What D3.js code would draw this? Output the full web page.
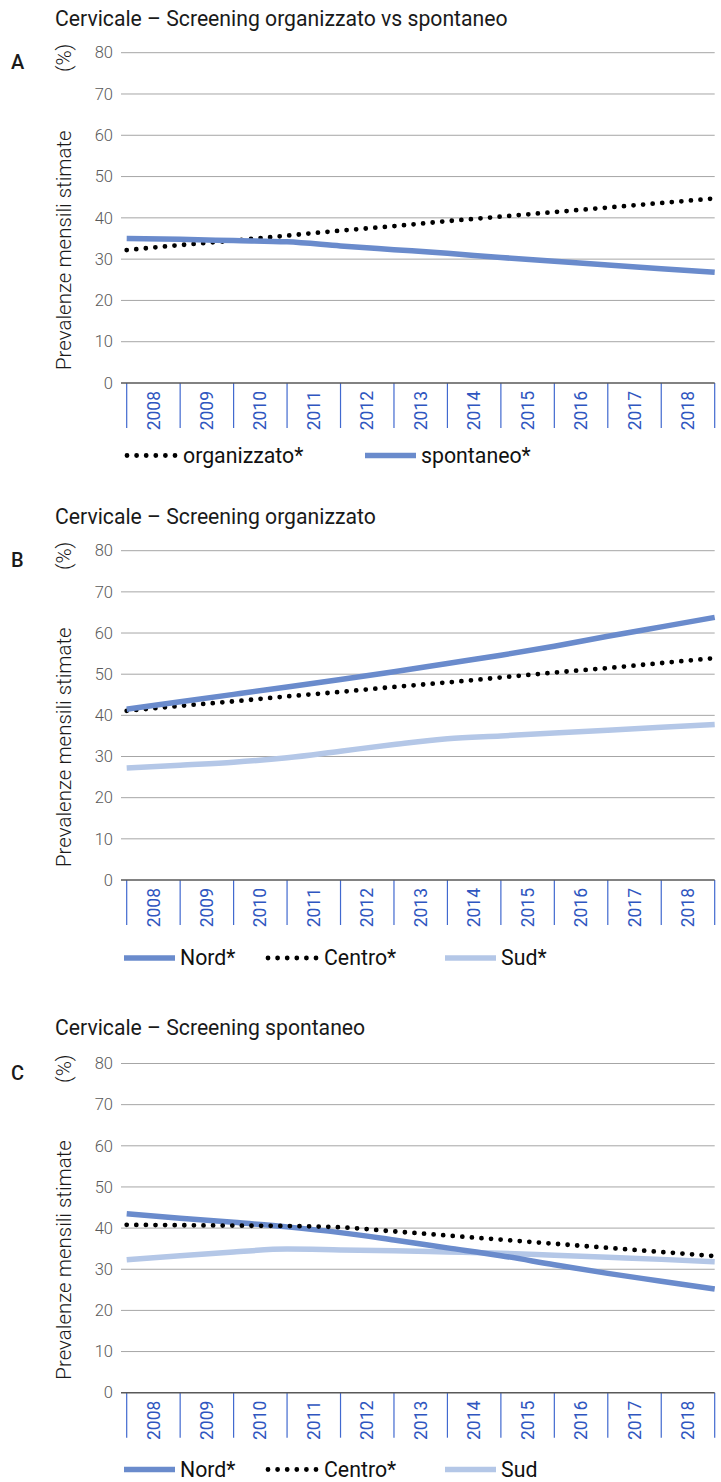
<!DOCTYPE html>
<html>
<head>
<meta charset="utf-8">
<script src="https://cdn.jsdelivr.net/npm/d3@7"></script>
<style>
  html, body { margin: 0; padding: 0; background: #fff; }
  svg { display: block; font-family: Roboto, "Open Sans", sans-serif; }
</style>
</head>
<body>
<svg id="chart" width="721" height="1482"></svg>
<script>
// Calendar years shown on the x axis (each band covers one year of monthly estimates)
const years = [2008, 2009, 2010, 2011, 2012, 2013, 2014, 2015, 2016, 2017, 2018];
// Time positions (start of each year, plus end of 2018) where the curves are sampled
const timeKnots = [2008, 2009, 2010, 2011, 2012, 2013, 2014, 2015, 2016, 2017, 2018, 2019];
const yTicks = [0, 10, 20, 30, 40, 50, 60, 70, 80];

// Panel A – organised vs spontaneous screening
const organizzatoA = [32.2, 33.4, 34.5, 35.7, 36.9, 38.0, 39.2, 40.3, 41.4, 42.5, 43.6, 44.7];
const spontaneoA   = [35.0, 34.8, 34.5, 34.2, 33.2, 32.3, 31.4, 30.4, 29.5, 28.6, 27.7, 26.8];

// Panel B – organised screening by area
const nordB   = [41.5, 43.3, 45.1, 46.9, 48.7, 50.6, 52.6, 54.6, 56.8, 59.2, 61.5, 63.8];
const centroB = [41.1, 42.3, 43.4, 44.6, 45.7, 46.9, 48.0, 49.2, 50.4, 51.5, 52.7, 53.9];
const sudB    = [27.2, 27.9, 28.6, 29.7, 31.3, 32.9, 34.3, 35.0, 35.7, 36.4, 37.1, 37.8];

// Panel C – spontaneous screening by area
const nordC   = [43.5, 42.4, 41.4, 40.3, 38.9, 37.1, 35.2, 33.3, 31.1, 29.0, 27.1, 25.2];
const centroC = [40.8, 40.7, 40.6, 40.5, 40.2, 39.2, 38.2, 37.2, 36.2, 35.2, 34.2, 33.2];
const sudC    = [32.3, 33.3, 34.2, 34.9, 34.7, 34.5, 34.2, 33.9, 33.4, 32.9, 32.4, 31.8];

const COLORS = { blue: "#6a8bcc", light: "#b4c7e7", dots: "#000000" };
const STYLES = {
  solid:  { stroke: COLORS.blue,  width: 5.5, dash: null },
  light:  { stroke: COLORS.light, width: 5.5, dash: null },
  dotted: { stroke: COLORS.dots,  width: 4.8, dash: "0,9.6" }
};

const svg = d3.select("#chart");
const plotLeft = 126.7, plotRight = 714.7, gridLeft = 121;
const x = d3.scaleLinear().domain([2008, 2019]).range([plotLeft, plotRight]);

function drawPanel(p) {
  const g = svg.append("g");
  const y = d3.scaleLinear().domain([0, 80]).range([p.y0, p.y80]);

  // title and panel letter
  g.append("text").attr("x", 55).attr("y", p.titleY)
    .attr("font-size", 21.2).attr("fill", "#1a1a1a").text(p.title);
  g.append("text").attr("x", 11).attr("y", p.y80 + 16)
    .attr("font-size", 20).attr("font-weight", 500).attr("fill", "#1a1a1a").text(p.letter);

  // y axis title: description at the bottom, unit at the top
  g.append("text")
    .attr("transform", `translate(71,${p.y0 - 13}) rotate(-90)`)
    .attr("text-anchor", "start")
    .attr("font-size", 20.5).attr("font-weight", 300).attr("fill", "#1a1a1a")
    .text("Prevalenze mensili stimate");
  g.append("text")
    .attr("transform", `translate(71,${p.y80 - 9}) rotate(-90)`)
    .attr("text-anchor", "end")
    .attr("font-size", 20.5).attr("font-weight", 300).attr("fill", "#1a1a1a")
    .text("(%)");

  // horizontal gridlines + y tick labels
  const yAxis = d3.axisLeft(y).tickValues(yTicks).tickSize(0).tickPadding(8);
  const ya = g.append("g").attr("transform", `translate(${gridLeft},0)`).call(yAxis);
  ya.select(".domain").remove();
  ya.selectAll("text").attr("font-size", 16.5).attr("font-weight", 300)
    .attr("fill", "#595959").attr("font-family", "Roboto, sans-serif");
  g.append("g").selectAll("line").data(yTicks.filter(d => d > 0)).join("line")
    .attr("x1", gridLeft).attr("x2", plotRight)
    .attr("y1", d => y(d)).attr("y2", d => y(d))
    .attr("stroke", "#a6a6a6").attr("stroke-width", 1);

  // x axis: category bands per year, tick lines at band edges
  const xa = g.append("g").attr("transform", `translate(0,${p.y0})`);
  xa.selectAll("line.tk").data(timeKnots).join("line").attr("class", "tk")
    .attr("x1", d => x(d)).attr("x2", d => x(d))
    .attr("y1", 0).attr("y2", 45)
    .attr("stroke", "#4169cf").attr("stroke-width", 1.2);
  xa.selectAll("text").data(years).join("text")
    .attr("transform", d => `translate(${x(d + 0.5)},8) rotate(-90)`)
    .attr("text-anchor", "end").attr("dy", "0.35em")
    .attr("font-size", 17.5).attr("fill", "#2f56c0")
    .text(d => d);
  g.append("line").attr("x1", gridLeft).attr("x2", plotRight)
    .attr("y1", p.y0).attr("y2", p.y0)
    .attr("stroke", "#595959").attr("stroke-width", 1.5);

  // series
  const line = d3.line().x((d, i) => x(timeKnots[i])).y(d => y(d)).curve(d3.curveMonotoneX);
  p.series.forEach(s => {
    const st = STYLES[s.style];
    g.append("path").datum(s.values)
      .attr("d", line).attr("fill", "none")
      .attr("stroke", st.stroke).attr("stroke-width", st.width)
      .attr("stroke-linecap", st.dash ? "round" : "butt")
      .attr("stroke-dasharray", st.dash);
  });

  // legend
  const lg = g.append("g").attr("transform", `translate(0,${p.legendY})`);
  p.legend.forEach(l => {
    const st = STYLES[l.style];
    lg.append("line").attr("x1", l.x0).attr("x2", l.x0 + 51).attr("y1", 0).attr("y2", 0)
      .attr("stroke", st.stroke).attr("stroke-width", st.width)
      .attr("stroke-linecap", st.dash ? "round" : "butt")
      .attr("stroke-dasharray", st.dash);
    lg.append("text").attr("x", l.x0 + 56).attr("y", 7)
      .attr("font-size", 21.3).attr("fill", "#111")
      .text(l.label);
  });
}

drawPanel({
  letter: "A", title: "Cervicale – Screening organizzato vs spontaneo",
  titleY: 26, y0: 383, y80: 52.7, legendY: 455.5,
  series: [
    { values: organizzatoA, style: "dotted" },
    { values: spontaneoA, style: "solid" }
  ],
  legend: [
    { label: "organizzato*", style: "dotted", x0: 127 },
    { label: "spontaneo*", style: "solid", x0: 365 }
  ]
});

drawPanel({
  letter: "B", title: "Cervicale – Screening organizzato",
  titleY: 524, y0: 880, y80: 550.7, legendY: 958,
  series: [
    { values: sudB, style: "light" },
    { values: centroB, style: "dotted" },
    { values: nordB, style: "solid" }
  ],
  legend: [
    { label: "Nord*", style: "solid", x0: 124 },
    { label: "Centro*", style: "dotted", x0: 268 },
    { label: "Sud*", style: "light", x0: 445 }
  ]
});

drawPanel({
  letter: "C", title: "Cervicale – Screening spontaneo",
  titleY: 1035, y0: 1392.7, y80: 1063.5, legendY: 1469.5,
  series: [
    { values: sudC, style: "light" },
    { values: nordC, style: "solid" },
    { values: centroC, style: "dotted" }
  ],
  legend: [
    { label: "Nord*", style: "solid", x0: 124 },
    { label: "Centro*", style: "dotted", x0: 268 },
    { label: "Sud", style: "light", x0: 445 }
  ]
});
</script>
</body>
</html>
